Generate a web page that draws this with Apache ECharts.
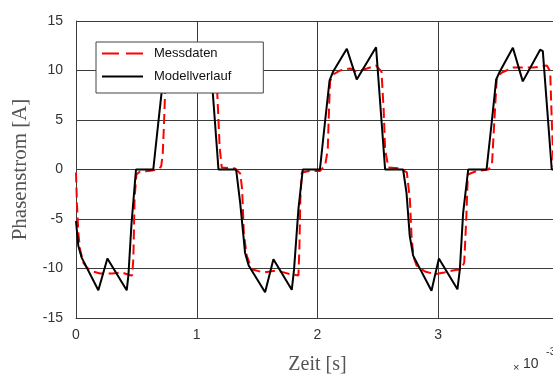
<!DOCTYPE html>
<html>
<head>
<meta charset="utf-8">
<script src="https://cdn.jsdelivr.net/npm/echarts@6/dist/echarts.min.js"></script>
<style>
  html, body { margin: 0; padding: 0; background: #fff; }
  #chart { width: 553px; height: 374px; }
</style>
</head>
<body>
<div id="chart"></div>
<script>
// Time axis in units of 1e-3 s
const xTicks = [0, 1, 2, 3, 4];
const yTicks = [-15, -10, -5, 0, 5, 10, 15];

// Measured phase current [A] as [t, i] pairs
const messdaten = [
  [0.000, -0.3], [0.008, -3.5], [0.020, -6.5], [0.033, -8.05], [0.060, -9.4], [0.089, -9.9],
  [0.140, -10.3], [0.200, -10.5], [0.300, -10.5], [0.380, -10.4], [0.440, -10.65], [0.465, -10.7],
  [0.475, -9.0], [0.485, -3.0], [0.500, -0.5], [0.530, -0.2], [0.600, -0.15], [0.680, 0.0],
  [0.705, 0.3], [0.718, 1.5], [0.730, 5.0], [0.740, 8.5], [0.760, 9.5], [0.810, 10.0],
  [0.890, 10.2], [0.945, 9.9], [1.030, 10.2], [1.105, 10.5], [1.155, 9.9], [1.170, 7.7],
  [1.190, 2.2], [1.207, 0.2], [1.317, 0.1], [1.360, -0.4], [1.376, -2.0], [1.390, -6.5],
  [1.414, -8.7], [1.455, -10.07], [1.550, -10.4], [1.660, -10.2], [1.773, -10.57], [1.842, -10.7],
  [1.850, -8.0], [1.858, -3.0], [1.870, -0.3], [1.940, -0.15], [2.020, -0.15], [2.063, 0.4],
  [2.085, 2.0], [2.095, 6.0], [2.104, 8.9], [2.130, 9.6], [2.187, 10.0], [2.270, 10.2],
  [2.325, 9.9], [2.410, 10.2], [2.485, 10.5], [2.530, 9.9], [2.548, 6.0], [2.560, 2.0],
  [2.587, 0.2], [2.684, 0.1], [2.740, -0.3], [2.765, -3.0], [2.780, -7.0], [2.795, -8.8],
  [2.820, -9.7], [2.890, -10.3], [2.970, -10.57], [3.050, -10.4], [3.120, -10.2], [3.190, -10.07],
  [3.215, -9.4], [3.232, -5.0], [3.245, -0.5], [3.317, -0.15], [3.416, 0.0], [3.445, 0.5],
  [3.465, 5.0], [3.485, 9.3], [3.527, 9.8], [3.623, 10.3], [3.706, 10.3], [3.789, 10.3],
  [3.900, 10.5], [3.927, 9.9], [3.940, 5.0], [3.955, 0.3], [4.000, 0.1]
];

// Model output [A] as [t, i] pairs
const modellverlauf = [
  [0.000, -5.2], [0.019, -7.7], [0.047, -8.9], [0.185, -12.2], [0.260, -9.0], [0.420, -12.2],
  [0.434, -10.7], [0.460, -5.4], [0.497, 0.0], [0.640, 0.0], [0.683, 4.9], [0.720, 9.0],
  [0.750, 9.9], [0.863, 12.2], [0.945, 9.1], [1.105, 12.35], [1.180, 0.0], [1.326, 0.0],
  [1.360, -3.4], [1.400, -8.4], [1.430, -9.7], [1.566, -12.4], [1.635, -9.06], [1.787, -12.15],
  [1.806, -10.07], [1.842, -4.0], [1.878, 0.0], [2.020, 0.0], [2.063, 4.9], [2.100, 9.0],
  [2.130, 9.9], [2.243, 12.2], [2.325, 9.1], [2.485, 12.35], [2.560, 0.0], [2.709, 0.0],
  [2.737, -2.35], [2.764, -6.7], [2.792, -8.7], [2.944, -12.25], [3.005, -9.0], [3.159, -12.1],
  [3.179, -10.07], [3.206, -4.4], [3.248, 0.0], [3.400, 0.0], [3.444, 4.9], [3.480, 9.1],
  [3.510, 9.9], [3.618, 12.3], [3.700, 8.9], [3.844, 12.1], [3.866, 11.95], [3.940, 0.0],
  [4.000, 0.0]
];

const gridColor = '#3c3c3c';
const tickFont = { fontFamily: 'Liberation Sans', fontSize: 14, color: '#333' };
const serifName = { fontFamily: 'Liberation Serif', color: '#555' };

// Legend keys: a dashed stroke and a solid stroke
const dashedKey = 'path://M0,0H17V2H0Z M24,0H41V2H24Z';
const solidKey = 'path://M0,0H41V2H0Z';

const chart = echarts.init(document.getElementById('chart'), null, { renderer: 'canvas' });

chart.setOption({
  animation: false,
  backgroundColor: '#fff',
  grid: { left: 76, right: -6, top: 21, bottom: 56, containLabel: false, outerBoundsMode: 'none' },
  xAxis: {
    type: 'value',
    min: xTicks[0],
    max: xTicks[xTicks.length - 1],
    interval: 1,
    name: 'Zeit [s]',
    nameLocation: 'middle',
    nameGap: 37,
    nameTextStyle: Object.assign({ fontSize: 20 }, serifName),
    axisLine: { show: true, onZero: false, lineStyle: { color: gridColor, width: 1 } },
    axisTick: { show: false },
    axisLabel: Object.assign({ margin: 10, showMaxLabel: false }, tickFont),
    splitLine: { show: true, lineStyle: { color: gridColor, width: 1 } }
  },
  yAxis: {
    type: 'value',
    min: yTicks[0],
    max: yTicks[yTicks.length - 1],
    interval: 5,
    name: 'Phasenstrom [A]',
    nameLocation: 'middle',
    nameGap: 45,
    nameTextStyle: Object.assign({ fontSize: 21 }, serifName),
    axisLine: { show: true, onZero: false, lineStyle: { color: gridColor, width: 1 } },
    axisTick: { show: false },
    axisLabel: Object.assign({ margin: 13 }, tickFont),
    splitLine: { show: true, lineStyle: { color: gridColor, width: 1 } }
  },
  legend: {
    z: 20,
    left: 96,
    top: 42,
    orient: 'vertical',
    align: 'left',
    padding: [5, 32, 10, 6],
    itemGap: 10,
    itemWidth: 41,
    itemHeight: 2,
    symbolKeepAspect: false,
    backgroundColor: '#fff',
    borderColor: '#444',
    borderWidth: 1,
    itemStyle: { borderWidth: 0 },
    textStyle: { fontFamily: 'Liberation Sans', fontSize: 13, color: '#111', padding: [0, 0, 0, 6] },
    data: [
      { name: 'Messdaten', icon: dashedKey },
      { name: 'Modellverlauf', icon: solidKey }
    ]
  },
  graphic: [
    { type: 'text', left: 513, top: 362, style: { text: '×', fontFamily: 'Liberation Sans', fontSize: 11, fill: '#333' } },
    { type: 'text', left: 523, top: 357, style: { text: '10', fontFamily: 'Liberation Sans', fontSize: 14, fill: '#333' } },
    { type: 'text', left: 546, top: 346, style: { text: '-3', fontFamily: 'Liberation Sans', fontSize: 11, fill: '#333' } }
  ],
  series: [
    {
      name: 'Messdaten',
      type: 'line',
      data: messdaten,
      showSymbol: false,
      symbol: 'none',
      lineStyle: { color: '#ff0000', width: 2, type: [10, 5] },
      itemStyle: { color: '#ff0000' },
      z: 2
    },
    {
      name: 'Modellverlauf',
      type: 'line',
      data: modellverlauf,
      showSymbol: false,
      symbol: 'none',
      lineStyle: { color: '#000', width: 2 },
      itemStyle: { color: '#000' },
      z: 3
    }
  ]
});
</script>
</body>
</html>
